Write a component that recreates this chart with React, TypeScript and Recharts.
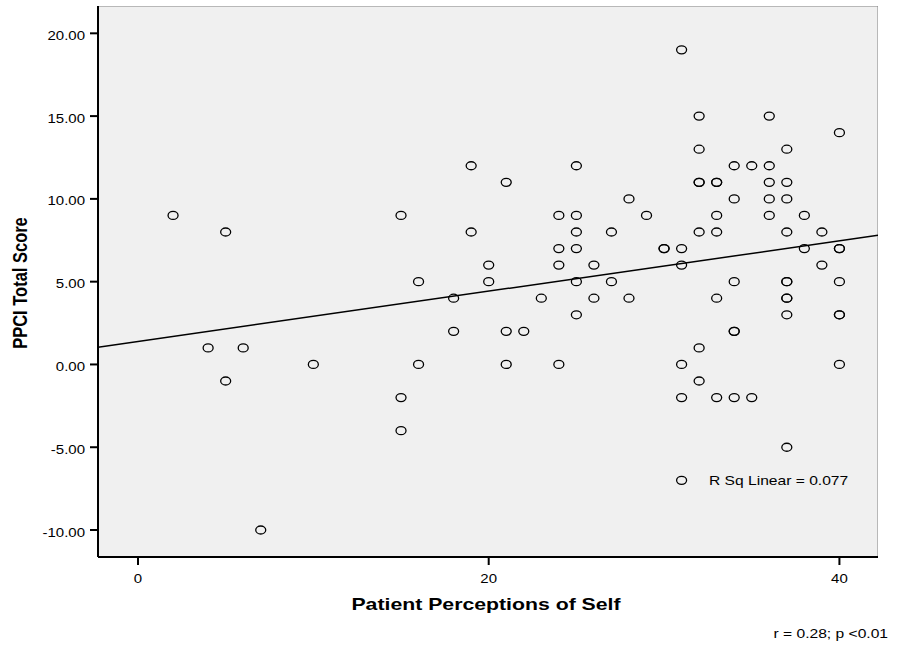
import React from "react";
import {
  ScatterChart,
  Scatter,
  XAxis,
  YAxis,
  ReferenceArea,
  ReferenceLine,
} from "recharts";

// PPCI Total Score vs Patient Perceptions of Self
const points: [number, number][] = [
  [2, 9], [4, 1], [5, 8], [5, -1], [6, 1], [7, -10], [10, 0],
  [15, 9], [15, -2], [15, -4], [16, 5], [16, 0], [18, 4], [18, 2],
  [19, 12], [19, 8], [20, 6], [20, 5], [21, 11], [21, 2], [21, 0],
  [22, 2], [23, 4], [24, 9], [24, 7], [24, 6], [24, 0],
  [25, 12], [25, 9], [25, 8], [25, 7], [25, 5], [25, 3],
  [26, 6], [26, 4], [27, 8], [27, 5], [28, 10], [28, 4], [29, 9],
  [30, 7], [30, 7],
  [31, 19], [31, 7], [31, 6], [31, 0], [31, -2], [31, -7],
  [32, 15], [32, 13], [32, 11], [32, 11], [32, 8], [32, 1], [32, -1],
  [33, 11], [33, 11], [33, 9], [33, 8], [33, 4], [33, -2],
  [34, 12], [34, 10], [34, 5], [34, 2], [34, 2], [34, -2],
  [35, 12], [35, -2],
  [36, 15], [36, 12], [36, 11], [36, 10], [36, 9],
  [37, 13], [37, 11], [37, 10], [37, 8], [37, 5], [37, 5], [37, 4], [37, 4],
  [37, 3], [37, -5],
  [38, 9], [38, 7], [39, 8], [39, 6],
  [40, 14], [40, 7], [40, 7], [40, 5], [40, 3], [40, 3], [40, 0],
];

// fit line (plot edges)
const fitLine = [
  { x: -2.28, y: 1.04 },
  { x: 42.2, y: 7.8 },
];

const xDomain: [number, number] = [-2.28, 42.2];
const yDomain: [number, number] = [-11.63, 21.65];
const xTicks = [0, 20, 40];
const yTicks = [-10, -5, 0, 5, 10, 15, 20];

const data = points.map(([x, y]) => ({ x, y }));

const FONT = "'Liberation Sans', Arial, sans-serif";
// the source image has its text stretched sideways a bit
const SX = 1.25;

const Ring = (props: any) => {
  const { cx, cy } = props;
  if (cx == null || cy == null) return null;
  return (
    <ellipse cx={cx} cy={cy} rx={5} ry={4} fill="none" stroke="#000" strokeWidth={1.3} />
  );
};

const Wide = ({ x, y, anchor = "start", size = 12, bold = false, children }: any) => (
  <text
    transform={`translate(${x},${y}) scale(${SX},1)`}
    textAnchor={anchor}
    fontFamily={FONT}
    fontSize={size}
    fontWeight={bold ? "bold" : "normal"}
    fill="#000"
  >
    {children}
  </text>
);

const XTick = ({ x, y, payload }: any) => (
  <Wide x={x} y={y + 12} anchor="middle">
    {String(payload.value)}
  </Wide>
);

const YTick = ({ x, y, payload }: any) => (
  <Wide x={x} y={y + 6.5} anchor="end">
    {Number(payload.value).toFixed(2)}
  </Wide>
);

export default function App() {
  return (
    <div style={{ position: "absolute", left: 0, top: 0, width: 900, height: 646, background: "#fff" }}>
      <ScatterChart
        width={900}
        height={646}
        margin={{ top: 6, right: 22, left: 0, bottom: 0 }}
      >
        <ReferenceArea
          x1={xDomain[0]}
          x2={xDomain[1]}
          y1={yDomain[0]}
          y2={yDomain[1]}
          fill="#F0F0F0"
          fillOpacity={1}
          stroke="#808080"
          strokeWidth={1}
          ifOverflow="hidden"
        />
        <XAxis
          type="number"
          dataKey="x"
          domain={xDomain}
          ticks={xTicks}
          allowDataOverflow
          height={89}
          tickSize={8}
          tickMargin={6}
          axisLine={{ stroke: "#000", strokeWidth: 2 }}
          tickLine={{ stroke: "#000", strokeWidth: 2 }}
          tick={<XTick />}
        />
        <YAxis
          type="number"
          dataKey="y"
          domain={yDomain}
          ticks={yTicks}
          allowDataOverflow
          width={98}
          tickSize={8}
          tickMargin={5}
          axisLine={{ stroke: "#000", strokeWidth: 2 }}
          tickLine={{ stroke: "#000", strokeWidth: 2 }}
          tick={<YTick />}
        />
        <ReferenceLine
          segment={fitLine}
          stroke="#000"
          strokeWidth={1.5}
          ifOverflow="hidden"
        />
        <Scatter data={data} shape={Ring} isAnimationActive={false} />
      </ScatterChart>
      <svg
        width={900}
        height={646}
        style={{ position: "absolute", left: 0, top: 0, pointerEvents: "none" }}
      >
        <Wide x={486} y={610} anchor="middle" size={17} bold>
          Patient Perceptions of Self
        </Wide>
        <text
          transform={`translate(27,283) rotate(-90) scale(1,${SX})`}
          textAnchor="middle"
          fontFamily={FONT}
          fontSize={16.5}
          fontWeight="bold"
        >
          PPCI Total Score
        </text>
        <Wide x={709} y={485} size={12.5}>
          R Sq Linear = 0.077
        </Wide>
        <Wide x={888} y={638} anchor="end" size={12.5}>
          r = 0.28; p &lt;0.01
        </Wide>
      </svg>
    </div>
  );
}
